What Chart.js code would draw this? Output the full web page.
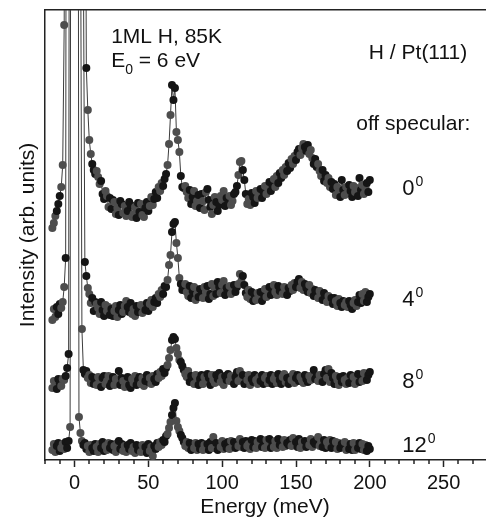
<!DOCTYPE html>
<html>
<head>
<meta charset="utf-8">
<script src="https://cdn.jsdelivr.net/npm/chart.js"></script>
<style>
    html, body { margin: 0; padding: 0; background: #fff; }
    #caixa { width: 489px; height: 521px; }
</style>
</head>
<body>
<div id="caixa"><canvas id="graficoHREELS"></canvas></div>
<script>
// grade de energia (meV), passo de 1 meV de -15 a 200
var energia = [];
for (var e = -15; e <= 200; e++) energia.push(e);

var angulos = [0, 4, 8, 12];
var ticksEnergia = [0, 50, 100, 150, 200, 250];
var ticksMenores = [-20, -10, 10, 20, 30, 40, 60, 70, 80, 90, 110, 120, 130, 140, 160, 170, 180, 190, 210, 220, 230, 240, 260, 270];

// intensidades (u. arb., ja deslocadas como no grafico)
var esp0 = [
    23.2, 23.7, 24.4, 24.9, 25.6, 26.4, 27.3, 29.5, 43.5, 120,
    250, 400, 550, 650, 700, 700, 600, 450, 300, 200,
    150, 110, 80, 39.2, 35.0, 32.0, 30.6, 29.6, 29.0, 28.6,
    28.9, 28.3, 27.6, 27.9, 26.6, 26.1, 26.9, 26.4, 25.3, 26.2,
    25.1, 26.0, 25.8, 24.6, 25.2, 24.5, 25.9, 25.6, 24.7, 25.4,
    24.4, 24.9, 25.8, 25.5, 24.3, 24.6, 25.3, 24.2, 25.7, 24.8,
    25.6, 24.5, 24.3, 25.2, 25.8, 24.9, 25.4, 26.3, 25.5, 26.1,
    26.8, 26.2, 27.3, 26.9, 27.7, 27.4, 28.1, 28.6, 29.5, 31.6,
    34.5, 37.5, 36.0, 37.2, 32.8, 32.0, 30.8, 28.4, 27.3, 27.2,
    27.4, 26.8, 26.2, 27.0, 25.6, 26.3, 26.9, 25.4, 25.9, 26.5,
    25.2, 26.6, 25.9, 25.0, 26.8, 27.1, 26.0, 25.3, 24.6, 25.5,
    26.3, 25.8, 24.9, 25.5, 26.4, 26.0, 26.9, 25.4, 26.2, 25.6,
    26.4, 25.5, 25.9, 26.6, 26.8, 27.4, 28.5, 29.8, 29.9, 29.0,
    28.0, 26.6, 25.6, 26.1, 25.5, 26.7, 26.3, 25.7, 26.9, 26.2,
    26.5, 27.1, 26.2, 26.8, 27.4, 26.6, 27.2, 27.8, 26.9, 27.5,
    28.1, 27.3, 28.4, 27.7, 28.7, 28.2, 29.0, 28.5, 29.3, 28.9,
    29.7, 29.2, 30.1, 29.6, 30.4, 30.0, 30.8, 31.1, 30.5, 31.2,
    31.6, 31.3, 30.9, 31.5, 30.6, 31.0, 30.2, 29.6, 30.1, 29.3,
    29.6, 28.9, 28.4, 29.0, 27.9, 28.5, 27.7, 28.2, 27.3, 27.8,
    27.1, 27.6, 26.5, 27.3, 26.8, 26.3, 28.0, 27.0, 26.5, 27.3,
    26.7, 27.5, 26.9, 26.3, 27.4, 26.8, 27.2, 26.4, 28.2, 27.0,
    27.5, 26.6, 27.1, 27.7, 26.8, 28.0
];

var esp4 = [
    14.0, 15.1, 14.3, 15.3, 14.6, 15.6, 15.2, 15.8, 17.3, 20.2,
    150, 300, 450, 550, 600, 600, 500, 350, 220, 120,
    80, 50, 19.8, 18.4, 17.2, 16.6, 15.7, 16.2, 14.9, 15.8,
    15.6, 15.2, 14.6, 15.8, 15.0, 14.4, 15.5, 14.9, 15.3, 14.5,
    15.1, 14.4, 14.9, 15.4, 14.3, 15.0, 15.5, 14.6, 14.8, 15.4,
    15.9, 15.3, 14.8, 15.7, 14.6, 15.1, 14.4, 15.4, 14.8, 15.2,
    15.5, 14.7, 15.2, 15.0, 15.7, 14.9, 15.6, 16.0, 15.3, 15.8,
    16.2, 15.7, 16.6, 16.3, 17.0, 16.6, 17.4, 17.3, 18.0, 19.5,
    20.5, 22.8, 23.6, 23.8, 21.7, 20.2, 18.2, 17.6, 17.0, 17.3,
    17.6, 16.8, 16.4, 17.4, 16.2, 16.9, 17.3, 16.0, 16.6, 16.3,
    17.1, 16.5, 16.2, 17.3, 16.8, 17.4, 16.1, 16.6, 17.6, 16.4,
    17.2, 16.6, 17.8, 17.3, 16.7, 17.5, 17.9, 16.5, 17.2, 16.8,
    17.4, 16.6, 17.0, 17.5, 16.8, 17.3, 17.6, 18.6, 17.9, 18.4,
    17.5, 16.7, 16.3, 17.0, 16.1, 16.8, 15.9, 16.5, 16.0, 16.7,
    16.2, 16.8, 15.9, 16.6, 17.1, 16.3, 16.9, 17.3, 16.5, 17.0,
    17.5, 16.8, 16.5, 17.4, 16.9, 17.2, 16.6, 17.3, 16.8, 16.5,
    17.2, 16.9, 17.5, 17.0, 17.7, 17.3, 17.8, 18.1, 17.2, 17.8,
    17.0, 17.6, 17.2, 16.8, 17.5, 16.7, 17.1, 16.4, 17.0, 16.6,
    16.2, 16.9, 16.5, 16.0, 16.7, 16.3, 15.8, 16.4, 15.9, 16.2,
    15.6, 16.2, 15.9, 15.4, 16.1, 15.7, 15.3, 15.9, 15.5, 15.8,
    15.3, 15.9, 15.5, 15.1, 15.7, 16.0, 15.4, 15.8, 16.5, 15.7,
    16.6, 15.9, 16.8, 15.8, 16.3, 16.6
];

var esp8 = [
    7.2, 7.9, 7.6, 7.1, 8.1, 7.7, 7.4, 8.1, 8.0, 8.4,
    9.2, 10.6, 120, 300, 500, 600, 450, 250, 120, 60,
    13.1, 9.0, 8.6, 8.9, 8.2, 8.5, 7.7, 8.3, 7.6, 8.1,
    7.5, 8.3, 7.9, 7.3, 8.2, 8.4, 7.6, 7.9, 8.4, 7.4,
    7.7, 8.3, 7.5, 8.1, 7.8, 8.9, 7.5, 8.2, 7.9, 7.3,
    7.9, 8.3, 7.5, 7.2, 8.1, 7.7, 8.4, 7.5, 8.0, 8.3,
    7.6, 8.2, 7.4, 7.9, 8.5, 7.8, 8.2, 7.6, 8.4, 8.1,
    7.8, 8.6, 8.2, 8.8, 8.4, 9.1, 8.7, 9.2, 9.5, 10.2,
    11.0, 12.0, 12.3, 12.1, 11.2, 10.6, 10.0, 9.8, 9.4, 9.0,
    8.6, 8.3, 8.9, 7.8, 8.4, 8.0, 7.6, 8.5, 8.2, 7.5,
    8.1, 8.5, 7.6, 8.3, 7.9, 8.6, 8.2, 7.5, 8.5, 8.0,
    7.7, 8.5, 8.1, 8.7, 7.8, 8.3, 7.5, 8.4, 8.0, 8.6,
    7.9, 8.4, 8.0, 7.6, 8.3, 8.8, 7.9, 8.9, 8.2, 8.5,
    7.6, 8.3, 8.0, 8.5, 7.5, 8.1, 7.8, 8.5, 8.0, 7.6,
    8.3, 7.9, 8.5, 7.6, 8.2, 8.4, 7.7, 8.0, 8.5, 7.6,
    8.1, 8.4, 7.7, 8.6, 8.0, 7.6, 8.3, 8.6, 7.8, 8.2,
    7.6, 8.3, 8.0, 8.6, 7.7, 8.2, 8.5, 7.9, 8.3, 8.0,
    7.7, 8.5, 8.1, 7.8, 8.4, 8.0, 8.3, 9.0, 8.1, 8.4,
    7.9, 8.5, 8.1, 7.8, 8.6, 9.0, 8.2, 9.1, 7.8, 8.7,
    8.2, 7.6, 8.4, 8.0, 7.5, 8.3, 7.8, 8.4, 8.0, 7.6,
    8.2, 7.7, 8.5, 7.9, 8.3, 7.6, 8.1, 8.6, 7.8, 8.4,
    7.9, 8.7, 8.2, 8.0, 8.5, 8.8
];

var esp12 = [
    1.0, 1.6, 0.8, 1.4, 1.7, 0.9, 1.2, 1.6, 1.1, 1.8,
    1.2, 1.9, 3.3, 150, 400, 500, 350, 120, 4.3, 2.7,
    1.9, 1.5, 1.7, 1.1, 1.4, 0.8, 1.5, 1.2, 0.9, 1.6,
    1.3, 0.8, 1.6, 1.2, 1.8, 0.9, 1.4, 1.0, 1.7, 1.2,
    1.6, 1.0, 1.4, 0.8, 1.7, 1.9, 1.1, 1.6, 0.9, 1.4,
    0.8, 1.5, 1.1, 1.7, 0.9, 1.3, 0.7, 1.5, 1.0, 1.4,
    0.8, 1.5, 1.0, 1.3, 0.7, 1.6, 0.9, 1.3, 0.4, 1.4,
    1.1, 1.7, 1.3, 1.8, 1.5, 2.0, 1.8, 2.4, 2.6, 3.2,
    3.8, 4.5, 5.2, 5.7, 3.9, 3.3, 2.9, 2.5, 2.2, 1.8,
    1.4, 1.8, 1.2, 1.7, 1.0, 1.5, 1.2, 1.7, 1.0, 1.6,
    1.1, 1.7, 1.0, 1.5, 1.3, 1.6, 1.0, 1.8, 1.2, 2.3,
    1.2, 1.7, 1.0, 1.6, 1.3, 1.9, 1.1, 1.6, 1.2, 1.8,
    1.1, 1.9, 1.3, 1.8, 1.2, 1.7, 1.4, 2.1, 1.3, 1.8,
    1.2, 1.9, 1.4, 1.6, 1.1, 2.0, 1.3, 1.9, 1.2, 1.8,
    1.4, 2.1, 1.3, 1.8, 1.2, 2.0, 1.5, 2.1, 1.2, 1.7,
    1.3, 1.9, 1.2, 2.1, 1.5, 1.8, 1.3, 2.0, 1.4, 1.7,
    1.5, 2.0, 1.4, 2.2, 1.5, 1.8, 1.3, 2.1, 1.2, 1.8,
    1.4, 1.9, 1.3, 1.8, 1.5, 2.1, 1.3, 1.8, 1.6, 2.0,
    2.3, 1.4, 1.8, 1.3, 2.0, 1.2, 1.8, 1.4, 2.0, 1.2,
    1.9, 1.3, 1.8, 1.1, 1.7, 1.2, 1.6, 1.3, 1.8, 1.0,
    1.6, 1.1, 1.6, 1.0, 1.7, 1.0, 1.5, 1.2, 1.7, 1.1,
    1.6, 1.0, 1.5, 0.9, 1.4, 1.1
];

var espectros = [esp0, esp4, esp8, esp12];

const fonte = '"Liberation Sans", Arial, Helvetica, sans-serif';

function pontos(serie) {
    return energia.map(function (en, i) { return { x: en, y: serie[i] }; });
}

// blocos de pontos pretos e cinza escuro, como no original
function corPonto(ctx) {
    return Math.floor(ctx.dataIndex / 3) % 2 ? '#151515' : '#4d4d4d';
}

const datasetsEspectros = espectros.map(function (serie, i) {
    return {
        label: angulos[i] + '°',
        data: pontos(serie),
        xAxisID: 'x',
        yAxisID: 'y',
        borderColor: '#3c3c3c',
        borderWidth: 1,
        pointRadius: 4,
        pointBackgroundColor: corPonto,
        pointBorderWidth: 0,
        tension: 0,
        fill: false
    };
});

function escreve(ctx, str, px, py, tamanho, alinhamento) {
    ctx.font = tamanho + 'px ' + fonte;
    ctx.textAlign = alinhamento || 'left';
    ctx.textBaseline = 'alphabetic';
    ctx.fillText(str, px, py);
    return ctx.measureText(str).width;
}

const pluginExtras = {
    id: 'extras',
    afterDraw: function (chart) {
        const ctx = chart.ctx;
        const ex = chart.scales.x;
        const ey = chart.scales.y;
        const px = function (v) { return ex.getPixelForValue(v); };
        const py = function (v) { return ey.getPixelForValue(v); };

        ctx.save();
        // ticks menores do eixo de energia
        ctx.strokeStyle = '#222';
        ctx.lineWidth = 1.5;
        ticksMenores.forEach(function (v) {
            const x0 = Math.round(px(v));
            ctx.beginPath();
            ctx.moveTo(x0, ey.bottom);
            ctx.lineTo(x0, ey.bottom + 4);
            ctx.stroke();
        });

        ctx.fillStyle = '#111';
        escreve(ctx, '1ML H, 85K', px(24.8), py(41.7), 21);
        var w = escreve(ctx, 'E', px(24.8), py(39.35), 21);
        w += escreve(ctx, '0', px(24.8) + w, py(39.35) + 7, 14);
        escreve(ctx, ' = 6 eV', px(24.8) + w, py(39.35), 21);
        escreve(ctx, 'H / Pt(111)', px(266), py(40.15), 21, 'right');
        escreve(ctx, 'off specular:', px(268), py(33.05), 21, 'right');

        var baseAngulo = [26.5, 15.4, 7.2, 0.83];
        angulos.forEach(function (a, i) {
            const x0 = px(222);
            const y0 = py(baseAngulo[i]);
            const wa = escreve(ctx, String(a), x0, y0, 22);
            escreve(ctx, '0', x0 + wa + 1, y0 - 9, 14);
        });
        ctx.restore();
    }
};

const config_grafico = {
    type: 'line',
    data: { datasets: datasetsEspectros },
    options: {
        responsive: true,
        maintainAspectRatio: false,
        animation: false,
        devicePixelRatio: 1,
        layout: { padding: { left: 0, right: 0, top: 10, bottom: 0 } },
        scales: {
            x: {
                type: 'linear',
                position: 'bottom',
                min: -20,
                max: 278,
                afterBuildTicks: function (escala) {
                    escala.ticks = ticksEnergia.map(function (v) { return { value: v }; });
                },
                afterFit: function (escala) { escala.height = 61; },
                grid: {
                    display: true,
                    drawOnChartArea: false,
                    drawTicks: true,
                    tickLength: 7,
                    tickColor: '#222',
                    tickWidth: 1.5
                },
                border: { display: true, color: '#222', width: 1.5 },
                ticks: {
                    color: '#111',
                    padding: 4,
                    maxRotation: 0,
                    autoSkip: false,
                    font: { size: 20, family: fonte }
                },
                title: {
                    display: true,
                    text: 'Energy (meV)',
                    color: '#111',
                    padding: { top: 0, bottom: 1 },
                    font: { size: 21, family: fonte }
                }
            },
            x2: {
                type: 'linear',
                position: 'top',
                min: -20,
                max: 278,
                afterFit: function (escala) { escala.height = 0; },
                grid: { display: false, drawTicks: false },
                border: { display: true, color: '#222', width: 1.5 },
                ticks: { display: false }
            },
            y: {
                type: 'linear',
                position: 'left',
                min: 0,
                max: 45,
                afterFit: function (escala) { escala.width = 45; },
                grid: { display: false, drawTicks: false },
                border: { display: true, color: '#222', width: 1.5 },
                ticks: { display: false },
                title: {
                    display: true,
                    text: 'Intensity (arb. units)',
                    color: '#111',
                    padding: { top: 16, bottom: 0 },
                    font: { size: 21, family: fonte }
                }
            }
        },
        plugins: {
            legend: { display: false },
            tooltip: { enabled: false }
        }
    },
    plugins: [pluginExtras]
};

const graficoHREELS = new Chart(document.getElementById('graficoHREELS'), config_grafico);
</script>
</body>
</html>
